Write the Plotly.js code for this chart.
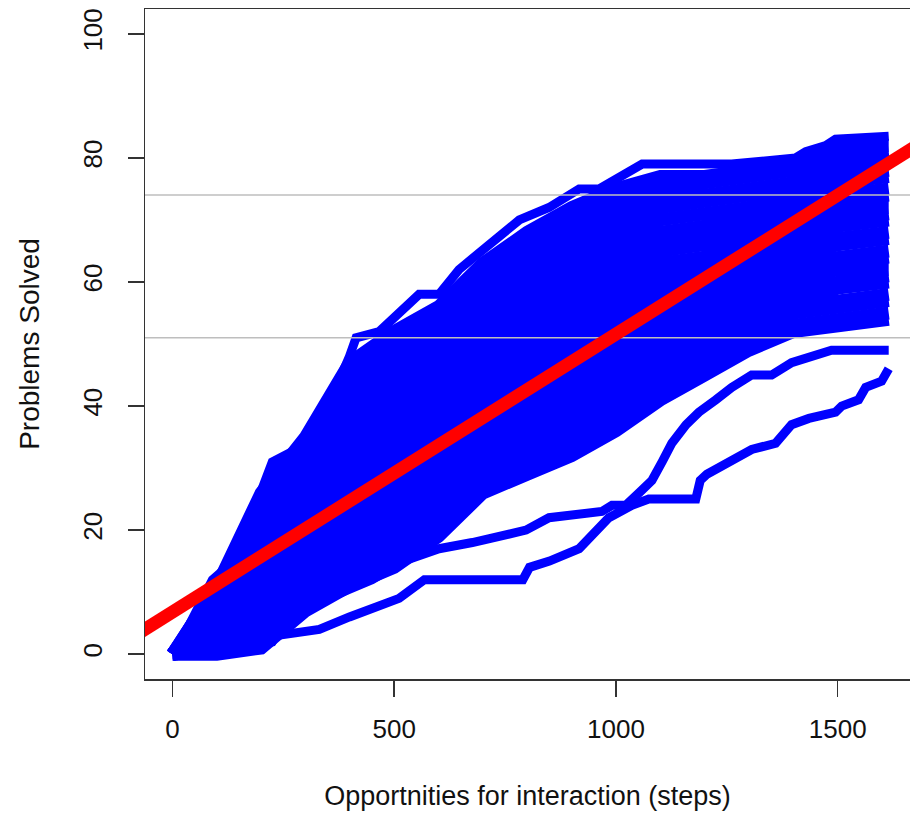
<!DOCTYPE html>
<html>
<head>
<meta charset="utf-8">
<script src="https://cdn.plot.ly/plotly-3.0.1.min.js"></script>
<style>
html,body{margin:0;padding:0;background:#fff;}
#chart{width:910px;height:822px;}
</style>
</head>
<body>
<div id="chart"></div>
<script>
// ---- data ----
const stepGrid = [0,100,200,300,400,500,600,700,800,900,1000,1100,1200,1300,1400,1500,1615];

// problems solved per student (main band), read at stepGrid
const studentsBand = [
  [0,0,1,7,11,14,19,26,29,32,36,41,45,49,52,53,54],
  [0,1,2,8,13,15,21,28,31,34,38,43,47,51,53,54,55],
  [0,1,4,10,15,17,23,30,33,36,40,45,48,52,55,56,57],
  [0,2,5,11,17,19,25,32,35,38,42,46,50,54,56,57,58],
  [0,2,6,12,19,21,26,34,37,40,44,48,52,55,57,59,60],
  [0,3,7,14,20,23,28,36,39,42,46,50,53,57,59,60,61],
  [0,3,8,15,22,25,30,38,41,44,48,52,55,58,60,62,62],
  [0,4,10,17,24,27,32,39,43,46,50,54,56,60,62,63,64],
  [0,5,11,18,26,29,34,41,45,48,52,56,58,61,63,64,65],
  [0,5,12,19,28,31,36,43,47,50,54,57,60,62,64,66,67],
  [0,6,13,21,29,33,38,45,49,52,56,59,61,64,66,67,68],
  [0,6,15,22,31,35,39,47,51,54,58,61,63,65,67,69,70],
  [0,7,16,24,33,37,41,49,52,56,59,63,64,67,68,70,71],
  [0,7,17,25,35,39,43,50,54,58,61,65,66,68,70,72,72],
  [0,8,18,26,37,41,45,52,56,60,63,66,68,70,71,73,74],
  [0,9,20,28,38,42,47,54,58,62,65,68,69,71,72,74,75],
  [0,9,21,29,40,44,49,56,60,64,67,70,71,72,74,76,77],
  [0,10,22,31,42,46,51,58,62,66,69,72,73,74,75,77,78],
  [0,10,23,32,44,48,52,60,64,68,71,74,74,75,76,79,79],
  [0,11,25,33,45,50,54,61,66,70,73,75,76,77,78,80,81],
  [0,11,26,35,47,52,56,63,68,72,75,77,77,78,79,82,82]
];

// fastest student (upper edge of the band)
const top_steps  = [0,40,90,122,151,173,196,225,279,331,369,399,414,466,556,601,646,714,782,849,917,962,1007,1059,1261,1405,1428,1473,1495,1615];
const top_solved = [0,5,12,14,17,21,26,31,33,39,43,48,51,52,58,58,62,66,70,72,75,75,77,79,79,80,81,82,83,83.5];

// slower students (separate lines at the bottom right)
const slowA_steps = [0,124,135,225,234,331,399,466,511,568,790,805,850,917,984,1036,1074,1180,1190,1205,1261,1306,1360,1396,1435,1495,1509,1547,1563,1599,1615];
const slowA_solved = [0,0,1,2,3,4,6,8,9,12,12,14,15,17,22,24,25,25,28,29,31,33,34,37,38,39,40,41,43,44,46];
const slowB_steps = [0,60,150,250,350,450,520,601,676,736,797,849,968,991,1022,1052,1081,1104,1126,1158,1187,1225,1261,1306,1351,1396,1435,1486,1615];
const slowB_solved = [0,1,3,6,9,12,15,17,18,19,20,22,23,24,24,26,28,31,34,37,39,41,43,45,45,47,48,49,49];

// fitted regression line and reference levels
const fitIntercept = 6.8;
const fitSlope = 0.0448;
const refLevels = [51, 74];

const xTicks = [0,500,1000,1500];
const yTicks = [0,20,40,60,80,100];

// ---- build traces ----
const blue = '#0000ff';
const traces = [];
studentsBand.forEach(s => {
  traces.push({x: stepGrid, y: s, type:'scatter', mode:'lines',
    line:{color:blue, width:13}, hoverinfo:'skip'});
});
traces.push({x: top_steps, y: top_solved, type:'scatter', mode:'lines',
  line:{color:blue, width:9}, hoverinfo:'skip'});
traces.push({x: slowA_steps, y: slowA_solved, type:'scatter', mode:'lines',
  line:{color:blue, width:9}, hoverinfo:'skip'});
traces.push({x: slowB_steps, y: slowB_solved, type:'scatter', mode:'lines',
  line:{color:blue, width:9}, hoverinfo:'skip'});

const lineX = [-300, 2000];
refLevels.forEach(v => {
  traces.push({x: lineX, y: [v, v], type:'scatter', mode:'lines',
    line:{color:'#bebebe', width:1.5}, hoverinfo:'skip'});
});
traces.push({x: lineX, y: lineX.map(v => fitIntercept + fitSlope * v),
  type:'scatter', mode:'lines', line:{color:'#ff0000', width:13}, hoverinfo:'skip'});

const font = '"Liberation Sans", Arial, sans-serif';
const layout = {
  width: 910, height: 822,
  margin: {l:145, r:0, t:9, b:143},
  paper_bgcolor:'#fff', plot_bgcolor:'#fff',
  showlegend:false,
  font:{family:font, color:'#111'},
  xaxis:{
    range:[-62, 1663], showgrid:false, zeroline:false,
    showline:true, mirror:true, linecolor:'#333', linewidth:1.5,
    ticks:'outside', ticklen:16, tickwidth:1.5, tickcolor:'#333',
    ticklabelstandoff:10,
    tickvals:xTicks, ticktext:xTicks.map(String),
    tickfont:{size:26, family:font, color:'#111'},
    title:{text:'Opportnities for interaction (steps)', font:{size:27, family:font, color:'#111'}, standoff:43}
  },
  yaxis:{
    range:[-4, 104], showgrid:false, zeroline:false,
    showline:true, linecolor:'#333', linewidth:1.5,
    ticks:'outside', ticklen:16, tickwidth:1.5, tickcolor:'#333',
    ticklabelstandoff:15,
    tickvals:yTicks, ticktext:yTicks.map(String), tickangle:-90,
    tickfont:{size:26, family:font, color:'#111'},
    title:{text:'Problems Solved', font:{size:28, family:font, color:'#111'}, standoff:30}
  }
};
Plotly.newPlot('chart', traces, layout, {staticPlot:true, displayModeBar:false});
</script>
</body>
</html>
